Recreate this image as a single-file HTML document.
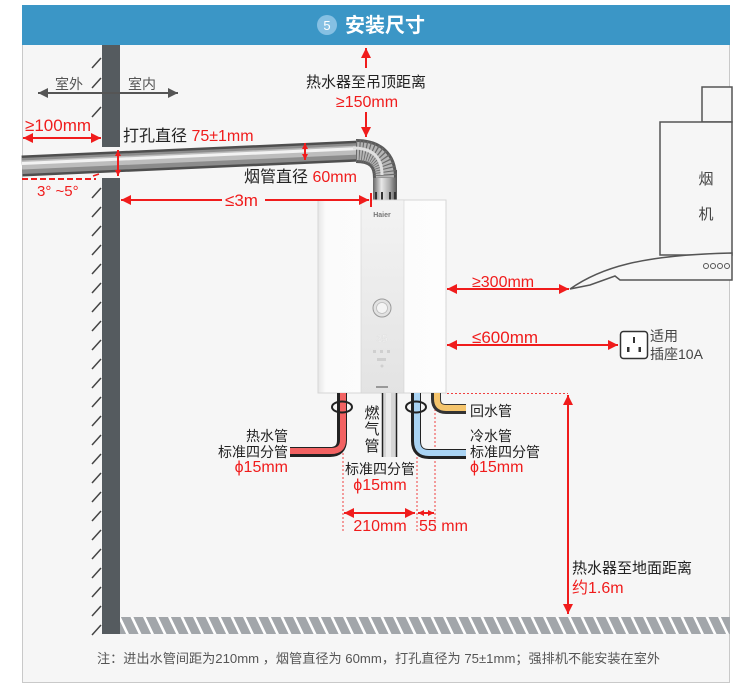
<!DOCTYPE html>
<html><head><meta charset="utf-8">
<style>
html,body{margin:0;padding:0;background:#fff;}
svg{display:block;}
text{font-family:"Liberation Sans","Noto Sans CJK SC",sans-serif;}
</style></head>
<body>
<svg width="750" height="692" viewBox="0 0 750 692" xmlns="http://www.w3.org/2000/svg">
<defs>
<marker id="ar" viewBox="0 0 10 10" refX="10" refY="5" markerWidth="10" markerHeight="10" markerUnits="userSpaceOnUse" orient="auto-start-reverse"><path d="M0,0 L10,5 L0,10 z" fill="#f01c1c"/></marker>
<marker id="as" viewBox="0 0 10 10" refX="10" refY="5" markerWidth="6" markerHeight="6" markerUnits="userSpaceOnUse" orient="auto-start-reverse"><path d="M0,0 L10,5 L0,10 z" fill="#f01c1c"/></marker>
<marker id="ag" viewBox="0 0 10 10" refX="10" refY="5" markerWidth="10" markerHeight="10" markerUnits="userSpaceOnUse" orient="auto-start-reverse"><path d="M0,0 L10,5 L0,10 z" fill="#555"/></marker>
<pattern id="hatch" width="12.5" height="17" patternUnits="userSpaceOnUse" x="120" y="617"><rect width="12.5" height="17" fill="#a2a6aa"/><path d="M-2,-3 L9,20" stroke="#fff" stroke-width="2.6"/><path d="M10.5,-3 L21.5,20" stroke="#fff" stroke-width="2.6"/></pattern>
<linearGradient id="vp" x1="0" y1="0" x2="1" y2="0"><stop offset="0" stop-color="#666"/><stop offset="0.35" stop-color="#e8e8e8"/><stop offset="0.7" stop-color="#aaa"/><stop offset="1" stop-color="#555"/></linearGradient>
<linearGradient id="panel" x1="0" y1="0" x2="0" y2="1"><stop offset="0" stop-color="#f3f3f3"/><stop offset="1" stop-color="#e3e3e3"/></linearGradient>
<linearGradient id="body" x1="0" y1="0" x2="1" y2="0"><stop offset="0" stop-color="#e6e6e6"/><stop offset="0.06" stop-color="#fbfbfb"/><stop offset="1" stop-color="#fdfdfd"/></linearGradient>
</defs>

<!-- frame -->
<rect x="22.5" y="5.5" width="707" height="677" fill="#f6f6f6" stroke="#c9c9c9" stroke-width="1"/>
<rect x="22" y="5" width="708" height="40" fill="#3b96c6"/>
<circle cx="327" cy="25" r="10" fill="#86c0e3"/>
<text x="327" y="30" font-size="13" fill="#fff" text-anchor="middle">5</text>
<text x="345" y="32" font-size="20" font-weight="bold" fill="#fff">安装尺寸</text>

<!-- wall -->
<rect x="102" y="45" width="18" height="102" fill="#555b5f"/>
<rect x="102" y="178" width="18" height="456" fill="#555b5f"/>
<g stroke="#444" stroke-width="1.5">
<line x1="92" y1="68" x2="101" y2="58"/>
<line x1="92" y1="88" x2="101" y2="78"/>
<line x1="92" y1="117" x2="101" y2="107"/>
<line x1="92" y1="198" x2="101" y2="188"/>
<line x1="92" y1="217" x2="101" y2="207"/>
<line x1="92" y1="236" x2="101" y2="226"/>
<line x1="92" y1="255" x2="101" y2="245"/>
<line x1="92" y1="274" x2="101" y2="264"/>
<line x1="92" y1="293" x2="101" y2="283"/>
<line x1="92" y1="312" x2="101" y2="302"/>
<line x1="92" y1="331" x2="101" y2="321"/>
<line x1="92" y1="350" x2="101" y2="340"/>
<line x1="92" y1="369" x2="101" y2="359"/>
<line x1="92" y1="388" x2="101" y2="378"/>
<line x1="92" y1="407" x2="101" y2="397"/>
<line x1="92" y1="426" x2="101" y2="416"/>
<line x1="92" y1="445" x2="101" y2="435"/>
<line x1="92" y1="464" x2="101" y2="454"/>
<line x1="92" y1="483" x2="101" y2="473"/>
<line x1="92" y1="502" x2="101" y2="492"/>
<line x1="92" y1="521" x2="101" y2="511"/>
<line x1="92" y1="540" x2="101" y2="530"/>
<line x1="92" y1="559" x2="101" y2="549"/>
<line x1="92" y1="578" x2="101" y2="568"/>
<line x1="92" y1="597" x2="101" y2="587"/>
<line x1="92" y1="616" x2="101" y2="606"/>
<line x1="92" y1="635" x2="101" y2="625"/>
</g>
<!-- floor -->
<rect x="120" y="617" width="610" height="17" fill="url(#hatch)"/>

<!-- indoor/outdoor arrow -->
<line x1="38" y1="93" x2="178" y2="93" stroke="#555" stroke-width="2" marker-start="url(#ag)" marker-end="url(#ag)"/>
<text x="55" y="89" font-size="14" fill="#555">室外</text>
<text x="128" y="89" font-size="14" fill="#555">室内</text>

<!-- flue pipe -->
<line x1="22" y1="166" x2="360" y2="151" stroke="#4e4e4e" stroke-width="21"/>
<line x1="22" y1="166" x2="360" y2="151" stroke="#8c8c8c" stroke-width="16"/>
<line x1="22" y1="165" x2="360" y2="150" stroke="#bdbdbd" stroke-width="9"/>
<line x1="22" y1="163.5" x2="360" y2="148.5" stroke="#f2f2f2" stroke-width="3"/>
<!-- vertical pipe -->
<rect x="373" y="170" width="24" height="30" fill="url(#vp)"/>
<g fill="#333"><rect x="375" y="192" width="2" height="8"/><rect x="381" y="192" width="2" height="8"/><rect x="389" y="192" width="2" height="8"/><rect x="394" y="192" width="2" height="8"/></g>
<!-- elbow -->
<path d="M356,151 Q385,151 385,178" fill="none" stroke="#5a5a5a" stroke-width="24"/>
<path d="M356,151 Q385,151 385,178" fill="none" stroke="#b5b5b5" stroke-width="18"/>
<path d="M356,151 Q385,151 385,178" fill="none" stroke="#6a6a6a" stroke-width="22" stroke-dasharray="1,2"/>
<path d="M356,151 Q385,151 385,178" fill="none" stroke="#e0e0e0" stroke-width="3" transform="translate(-3,-3)"/>

<!-- heater -->
<rect x="318" y="200" width="128" height="193" fill="url(#body)" stroke="#d6d6d6" stroke-width="1"/>
<rect x="361" y="200" width="43" height="193" fill="url(#panel)" stroke="#d2d2d2" stroke-width="0.6"/>
<text x="382" y="217" font-size="7" font-weight="bold" fill="#777" text-anchor="middle">Haier</text>
<circle cx="382" cy="308" r="9" fill="#e2e2e2" stroke="#9a9a9a" stroke-width="1"/>
<circle cx="382" cy="308" r="5.5" fill="#f4f4f4" stroke="#bbb" stroke-width="0.8"/>
<text x="382" y="342" font-size="10" fill="#fdfdfd" stroke="#d6d6d6" stroke-width="0.3" text-anchor="middle">35</text>
<g fill="#cfcfcf"><rect x="373" y="350" width="3" height="3"/><rect x="380" y="350" width="3" height="3"/><rect x="387" y="350" width="3" height="3"/><rect x="377" y="358" width="9" height="3"/><circle cx="382" cy="366" r="1.5"/></g>
<rect x="376" y="386" width="12" height="2" fill="#999"/>

<!-- range hood -->
<g fill="#f6f6f6" stroke="#555" stroke-width="1.5">
<rect x="702" y="87" width="30" height="35"/>
<rect x="660" y="122" width="72" height="133"/>
<path d="M570,289 C600,268 640,255 732,253 L732,280 L620,280 L615,276 L590,285 Z"/>
</g>
<text x="706" y="184" font-size="15" fill="#444" text-anchor="middle">烟</text>
<text x="706" y="219" font-size="15" fill="#444" text-anchor="middle">机</text>
<g fill="none" stroke="#555" stroke-width="1"><circle cx="706" cy="266" r="2.5"/><circle cx="713" cy="266" r="2.5"/><circle cx="720" cy="266" r="2.5"/><circle cx="727" cy="266" r="2.5"/></g>

<!-- socket -->
<rect x="620.5" y="331.5" width="27" height="27" rx="3" fill="#fff" stroke="#333" stroke-width="1.5"/>
<rect x="633" y="337" width="2" height="6" fill="#333"/>
<rect x="627" y="347" width="2.5" height="5" fill="#333"/>
<rect x="638.5" y="347" width="2.5" height="5" fill="#333"/>
<text x="650" y="341" font-size="14" fill="#444">适用</text>
<text x="650" y="359" font-size="14" fill="#444">插座10A</text>

<!-- dotted guides -->
<g stroke="#f04040" stroke-width="1" stroke-dasharray="2,2" fill="none">
<line x1="343" y1="393" x2="343" y2="532"/>
<line x1="417" y1="393" x2="417" y2="532"/>
<line x1="435" y1="393" x2="435" y2="532"/>
<line x1="447" y1="393.5" x2="568" y2="393.5"/>
</g>

<!-- water/gas pipes -->
<rect x="382" y="393" width="15" height="64" fill="#d6d6d6"/>
<rect x="386" y="393" width="5" height="64" fill="#ececec"/>
<line x1="382.5" y1="393" x2="382.5" y2="457" stroke="#222" stroke-width="1.5"/>
<line x1="396.5" y1="393" x2="396.5" y2="457" stroke="#222" stroke-width="1.5"/>

<path d="M342,393 L342,440 Q342,452 330,452 L290,452" fill="none" stroke="#222" stroke-width="10"/>
<path d="M343,393 L343,440 Q343,451 331,451 L290,451" fill="none" stroke="#f26262" stroke-width="6"/>
<ellipse cx="342" cy="407" rx="10" ry="5.5" fill="none" stroke="#222" stroke-width="2"/>

<path d="M416,393 L416,441 Q416,454 429,454 L466,454" fill="none" stroke="#222" stroke-width="10"/>
<path d="M417,393 L417,441 Q417,453 429,453 L466,453" fill="none" stroke="#a9d3f3" stroke-width="6"/>
<ellipse cx="416" cy="407" rx="10" ry="5.5" fill="none" stroke="#222" stroke-width="2"/>

<path d="M436,393 L436,399 Q436,409 446,409 L466,409" fill="none" stroke="#333" stroke-width="10"/>
<path d="M437,393 L437,399 Q437,408 446,408 L466,408" fill="none" stroke="#f4c46c" stroke-width="6"/>

<!-- red dimension arrows -->
<g stroke="#f01c1c" stroke-width="2" fill="none">
<line x1="366" y1="68" x2="366" y2="48" marker-end="url(#ar)"/>
<line x1="366" y1="112" x2="366" y2="137" marker-end="url(#ar)"/>
<line x1="23" y1="138" x2="101" y2="138" marker-start="url(#ar)" marker-end="url(#ar)"/>
<line x1="118" y1="150" x2="118" y2="176" marker-start="url(#as)" marker-end="url(#as)"/>
<line x1="305" y1="143" x2="305" y2="160" marker-start="url(#as)" marker-end="url(#as)"/>
<line x1="121" y1="200" x2="222" y2="200" marker-start="url(#ar)"/>
<line x1="265" y1="200" x2="369" y2="200" marker-end="url(#ar)"/>
<line x1="371" y1="193" x2="371" y2="207"/>
<line x1="447" y1="289" x2="569" y2="289" marker-start="url(#ar)" marker-end="url(#ar)"/>
<line x1="447" y1="345" x2="618" y2="345" marker-start="url(#ar)" marker-end="url(#ar)"/>
<line x1="344" y1="513" x2="415" y2="513" marker-start="url(#ar)" marker-end="url(#ar)"/>
<line x1="418" y1="513" x2="434" y2="513" marker-start="url(#as)" marker-end="url(#as)"/>
<line x1="568" y1="395" x2="568" y2="614" marker-start="url(#ar)" marker-end="url(#ar)"/>
</g>
<line x1="22" y1="179" x2="96" y2="179" stroke="#f01c1c" stroke-width="2" stroke-dasharray="6,3"/>
<path d="M93,176 L99,174" stroke="#f01c1c" stroke-width="1.5"/>

<!-- labels -->
<text x="366" y="87" font-size="15" fill="#222" text-anchor="middle">热水器至吊顶距离</text>
<text x="367" y="107" font-size="16" fill="#f01c1c" text-anchor="middle">≥150mm</text>
<text x="25" y="131" font-size="17" fill="#f01c1c">≥100mm</text>
<text x="123" y="141" font-size="16" fill="#222">打孔直径 <tspan fill="#f01c1c">75±1mm</tspan></text>
<text x="244" y="182" font-size="16" fill="#222">烟管直径 <tspan fill="#f01c1c">60mm</tspan></text>
<text x="37" y="196" font-size="15" fill="#f01c1c">3°  ~5°</text>
<text x="225" y="206" font-size="17" fill="#f01c1c">≤3m</text>
<text x="472" y="287" font-size="16" fill="#f01c1c">≥300mm</text>
<text x="472" y="343" font-size="17" fill="#f01c1c">≤600mm</text>

<text x="470" y="416" font-size="14" fill="#222">回水管</text>
<text x="470" y="441" font-size="14" fill="#222">冷水管</text>
<text x="470" y="457" font-size="14" fill="#222">标准四分管</text>
<text x="470" y="472" font-size="16" fill="#f01c1c">ϕ15mm</text>

<text x="288" y="441" font-size="14" fill="#222" text-anchor="end">热水管</text>
<text x="288" y="457" font-size="14" fill="#222" text-anchor="end">标准四分管</text>
<text x="288" y="472" font-size="16" fill="#f01c1c" text-anchor="end">ϕ15mm</text>

<text x="372" y="418" font-size="15" fill="#222" text-anchor="middle">燃</text>
<text x="372" y="434" font-size="15" fill="#222" text-anchor="middle">气</text>
<text x="372" y="451" font-size="15" fill="#222" text-anchor="middle">管</text>

<text x="380" y="474" font-size="14" fill="#222" text-anchor="middle">标准四分管</text>
<text x="380" y="490" font-size="16" fill="#f01c1c" text-anchor="middle">ϕ15mm</text>

<text x="380" y="531" font-size="16" fill="#f01c1c" text-anchor="middle">210mm</text>
<text x="419" y="531" font-size="16" fill="#f01c1c">55 mm</text>

<text x="572" y="573" font-size="15" fill="#222">热水器至地面距离</text>
<text x="572" y="593" font-size="16" fill="#f01c1c">约1.6m</text>

<text x="97" y="663" font-size="13" fill="#555" textLength="563" lengthAdjust="spacingAndGlyphs">注：进出水管间距为210mm ，烟管直径为 60mm，打孔直径为 75±1mm；强排机不能安装在室外</text>
</svg>
</body></html>
